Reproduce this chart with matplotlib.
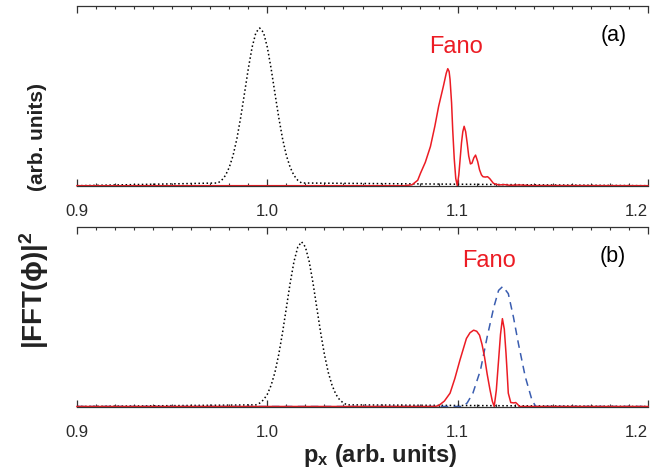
import matplotlib
matplotlib.use("Agg")
import matplotlib.pyplot as plt
from matplotlib.ticker import MultipleLocator

plt.rcParams['font.family'] = ['Liberation Sans', 'DejaVu Sans']
plt.rcParams['mathtext.fontset'] = 'custom'
plt.rcParams['mathtext.rm'] = 'Liberation Sans'
plt.rcParams['mathtext.bf'] = 'Liberation Sans:bold'
plt.rcParams['mathtext.it'] = 'Liberation Sans:italic'

# ---- datos ----
# (a) referencia (punteada negra)
xa_ref = [0.900, 0.974, 0.976, 0.978, 0.980, 0.982, 0.984, 0.986, 0.988, 0.990,
          0.992, 0.994, 0.996, 0.998, 1.000, 1.002, 1.004, 1.006, 1.008, 1.010,
          1.012, 1.014, 1.016, 1.018, 1.200]
ya_ref = [0.0, 0.015, 0.030, 0.057, 0.102, 0.168, 0.261, 0.379, 0.513, 0.650,
          0.769, 0.851, 0.876, 0.851, 0.769, 0.650, 0.513, 0.379, 0.261, 0.168,
          0.102, 0.057, 0.030, 0.015, 0.0]

# (a) Fano (roja)
xa_fano = [0.900, 1.072, 1.076, 1.079, 1.0805, 1.083, 1.0857, 1.088, 1.090, 1.0925,
           1.094, 1.0948, 1.0955, 1.096, 1.0968, 1.0974, 1.0982, 1.099, 1.0998, 1.1006,
           1.102, 1.1027, 1.1034, 1.1042, 1.105, 1.1058, 1.1067, 1.1075, 1.1085, 1.1094,
           1.1105, 1.1115, 1.1125, 1.1133, 1.1145, 1.1157, 1.1168, 1.1188, 1.1215, 1.1245,
           1.1275, 1.1325, 1.1375, 1.200]
ya_fano = [0.0, 0.0, 0.005, 0.03, 0.07, 0.13, 0.218, 0.33, 0.441, 0.553,
           0.625, 0.650, 0.635, 0.59, 0.46, 0.31, 0.15, 0.04, 0.0, 0.06,
           0.237, 0.30, 0.33, 0.30, 0.237, 0.165, 0.121, 0.125, 0.155, 0.17,
           0.135, 0.088, 0.06, 0.05, 0.048, 0.05, 0.04, 0.013, 0.004, 0.006,
           0.002, 0.004, 0.001, 0.0]

# (b) referencia (punteada negra)
xb_ref = [0.900, 0.994, 0.996, 0.998, 1.000, 1.002, 1.004, 1.006, 1.008, 1.010,
          1.012, 1.014, 1.016, 1.018, 1.020, 1.022, 1.024, 1.026, 1.028, 1.030,
          1.032, 1.034, 1.036, 1.038, 1.040, 1.042, 1.200]
yb_ref = [0.0, 0.009, 0.019, 0.037, 0.068, 0.118, 0.190, 0.289, 0.411, 0.548,
          0.686, 0.805, 0.886, 0.915, 0.886, 0.805, 0.686, 0.548, 0.411, 0.289,
          0.190, 0.118, 0.068, 0.037, 0.019, 0.009, 0.0]

# (b) Fano (roja)
xb_fano = [0.900, 1.088, 1.090, 1.093, 1.096, 1.0985, 1.1012, 1.1046, 1.1065, 1.1084,
           1.110, 1.1115, 1.1128, 1.1141, 1.1155, 1.117, 1.1182, 1.1192, 1.1203, 1.1215,
           1.1225, 1.1235, 1.1245, 1.1254, 1.1261, 1.1266, 1.1279, 1.1295, 1.1305, 1.1315,
           1.1325, 1.200]
yb_fano = [0.0, 0.0, 0.005, 0.03, 0.074, 0.155, 0.258, 0.378, 0.41, 0.424,
           0.418, 0.396, 0.345, 0.276, 0.18, 0.092, 0.03, 0.0, 0.09, 0.258,
           0.40, 0.488, 0.43, 0.295, 0.17, 0.074, 0.022, 0.02, 0.022, 0.012,
           0.0, 0.0]

# (b) azul discontinua
xb_azul = [0.900, 1.1029, 1.105, 1.108, 1.112, 1.1155, 1.119, 1.1215, 1.1237, 1.1266,
           1.1293, 1.1319, 1.1355, 1.139, 1.141, 1.200]
yb_azul = [0.0, 0.0, 0.02, 0.074, 0.203, 0.387, 0.552, 0.645, 0.667, 0.627,
           0.497, 0.35, 0.166, 0.037, 0.0, 0.0]

ticks = [0.9, 1.0, 1.1, 1.2]
tick_labels = ["0.9", "1.0", "1.1", "1.2"]

ROJO = "#ec1c24"
AZUL = "#3a5db0"
GRIS = "#333333"

W, H = 661, 472
fig = plt.figure(figsize=(W / 100, H / 100), dpi=100)
ax_a = fig.add_axes([77 / W, 1 - 185.7 / H, 571 / W, 180 / H])
ax_b = fig.add_axes([77 / W, 1 - 406.5 / H, 571 / W, 180 / H])

for ax in (ax_a, ax_b):
    ax.set_xlim(0.9, 1.2)
    ax.set_ylim(0, 1)
    ax.spines['left'].set_visible(False)
    ax.spines['right'].set_visible(False)
    for s in ('top', 'bottom'):
        ax.spines[s].set_color(GRIS)
        ax.spines[s].set_linewidth(0.9)
    ax.set_yticks([])
    ax.xaxis.set_minor_locator(MultipleLocator(0.01))
    ax.set_xticks(ticks)
    ax.set_xticklabels(tick_labels)
    ax.tick_params(axis='x', which='both', direction='in', top=True, bottom=True,
                   color=GRIS, labelcolor="#2a2a2a", labelsize=12, pad=13)
    ax.tick_params(axis='x', which='major', length=5, width=0.9)
    ax.tick_params(axis='x', which='minor', length=2.5, width=0.8)
    ax.get_xticklabels()[-1].set_horizontalalignment('right')

# panel (a)
ax_a.plot(xa_ref, ya_ref, ':', color='black', lw=1.1, clip_on=False)
ax_a.plot(xa_fano, ya_fano, '-', color=ROJO, lw=1.1, clip_on=False)
ax_a.text(1.0992, 0.773, "Fano", color=ROJO, fontsize=17, ha='center', va='center')
ax_a.text(1.1819, 0.832, "(a)", color='black', fontsize=15.5, ha='center', va='center')

# panel (b)
ax_b.plot(xb_ref, yb_ref, ':', color='black', lw=1.1, clip_on=False)
ax_b.plot(xb_azul, yb_azul, '--', color=AZUL, lw=1.1, dashes=(5, 3.5), clip_on=False)
ax_b.plot(xb_fano, yb_fano, '-', color=ROJO, lw=1.1, clip_on=False)
ax_b.text(1.1162, 0.81, "Fano", color=ROJO, fontsize=17, ha='center', va='center')
ax_b.text(1.1814, 0.836, "(b)", color='black', fontsize=15.5, ha='center', va='center')

# etiquetas de ejes
fig.text(380 / W, 1 - 462 / H, r"$\mathbf{p_x}$ (arb. units)", fontsize=17,
         fontweight='bold', ha='center', va='baseline', color='#222222')

fig.text(43 / W, 1 - 290 / H, "|FFT(ϕ)|$^\\mathbf{2}$", rotation=90,
         rotation_mode='anchor', fontsize=20, fontweight='bold', ha='center',
         va='baseline', color='#222222', family=['Liberation Sans', 'DejaVu Sans'])
fig.text(43 / W, 1 - 137 / H, "(arb. units)", rotation=90,
         rotation_mode='anchor', fontsize=15, fontweight='bold', ha='center',
         va='baseline', color='#222222')

fig.savefig("out.png", dpi=100)
